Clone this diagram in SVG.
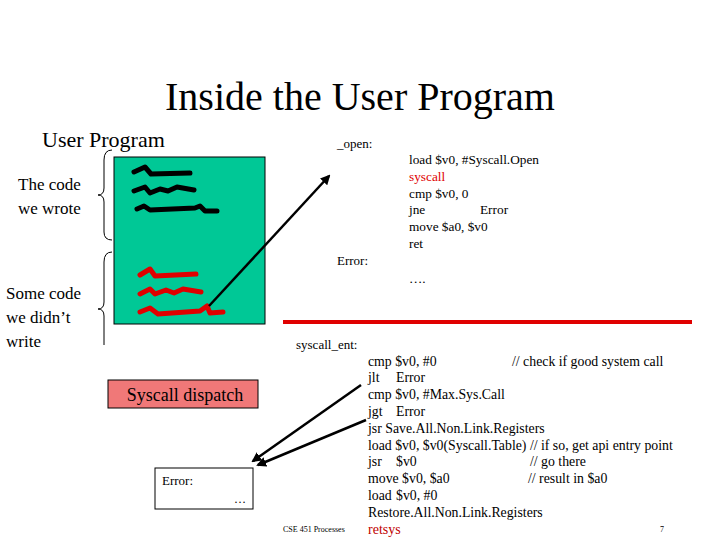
<svg xmlns="http://www.w3.org/2000/svg" width="720" height="540" viewBox="0 0 720 540">
<defs>
<style>
text{font-family:"Liberation Serif",serif;fill:#000}
.s{font-size:13px}
.r{fill:#e00000}
.code{font-size:13.3px}
.ent{font-size:13.8px}
.scr{fill:none;stroke-width:5;stroke-linejoin:round;stroke-linecap:round}
.br{fill:none;stroke:#000;stroke-width:1}
.ar{stroke:#000;stroke-width:2.5;fill:none}
</style>
<marker id="ah" viewBox="0 0 10 10" refX="8" refY="5" markerWidth="4" markerHeight="4" orient="auto"><path d="M0,0L10,5L0,10z" fill="#000"/></marker>
</defs>
<rect width="720" height="540" fill="#fff"/>
<text x="360" y="110" font-size="40" text-anchor="middle">Inside the User Program</text>
<text x="42" y="147" font-size="22">User Program</text>
<g id="brackets">
<path class="br" d="M112,150 Q104,150 104,160 L104,188 Q104,195 98,195 Q104,195 104,202 L104,232 Q104,240 112,240"/>
<path class="br" d="M112,252 Q104,252 104,262 L104,302 Q104,309 98,309 Q104,309 104,316 L104,345"/>
</g>
<text x="18" y="190" font-size="17">The code</text>
<text x="18" y="214" font-size="17">we wrote</text>
<text x="6" y="299" font-size="17">Some code</text>
<text x="6" y="323" font-size="17">we didn’t</text>
<text x="6" y="347" font-size="17">write</text>
<g id="program">
<rect x="114" y="157" width="151" height="167" fill="#00c896" stroke="#000" stroke-width="1"/>
<path class="scr" stroke="#000" d="M134,172 L145,167 L151,174 L190,173"/>
<path class="scr" stroke="#000" d="M134,191 L145,187 L150,193 L160,189 L168,191 L177,187 L194,190"/>
<path class="scr" stroke="#000" d="M137,209 L144,206 L150,210 L195,208 L200,206 L205,211 L217,211"/>
<path class="scr" stroke="#e00000" d="M140,275 L150,269 L155,276 L196,274"/>
<path class="scr" stroke="#e00000" d="M140,294 L150,289 L155,294 L166,290 L174,293 L183,289 L201,292"/>
<path class="scr" stroke="#e00000" d="M140,312 L150,308 L158,314 L200,311 L207,306 L210,313 L223,312"/>
</g>
<text x="337" y="148" class="s">_open:</text>
<text x="337" y="265" class="s">Error:</text>
<g id="opencode" class="code">
<text x="409" y="164">load $v0, #Syscall.Open</text>
<text x="409" y="181" class="r">syscall</text>
<text x="409" y="198">cmp $v0, 0</text>
<text x="409" y="214">jne<tspan x="480">Error</tspan></text>
<text x="409" y="231">move $a0, $v0</text>
<text x="409" y="248">ret</text>
<text x="409" y="283">….</text>
</g>
<rect x="283" y="320" width="409" height="4" fill="#e00000"/>
<text x="296" y="349" class="s">syscall_ent:</text>
<g id="entcode" class="ent">
<text x="368" y="366">cmp $v0, #0<tspan x="512">// check if good system call</tspan></text>
<text x="368" y="382">jlt<tspan x="396">Error</tspan></text>
<text x="368" y="399">cmp $v0, #Max.Sys.Call</text>
<text x="368" y="416">jgt<tspan x="396">Error</tspan></text>
<text x="368" y="433">jsr Save.All.Non.Link.Registers</text>
<text x="368" y="450">load $v0, $v0(Syscall.Table) // if so, get api entry point</text>
<text x="368" y="466">jsr<tspan x="396">$v0</tspan><tspan x="530">// go there</tspan></text>
<text x="368" y="483">move $v0, $a0<tspan x="528">// result in $a0</tspan></text>
<text x="368" y="500">load<tspan x="396">$v0, #0</tspan></text>
<text x="368" y="517">Restore.All.Non.Link.Registers</text>
<text x="368" y="534" font-size="14" style="fill:#c00000">retsys</text>
</g>
<g id="dispatch">
<rect x="108" y="380" width="150" height="28" fill="#f07878" stroke="#000" stroke-width="1"/>
<text x="185" y="401" font-size="18" text-anchor="middle">Syscall dispatch</text>
</g>
<g id="errorbox">
<rect x="155" y="468" width="98" height="41" fill="#fff" stroke="#000" stroke-width="1"/>
<text x="162" y="485" font-size="13">Error:</text>
<text x="234" y="503" font-size="12">…</text>
</g>
<g id="connectors">
<line class="ar" x1="209" y1="306" x2="329" y2="176" marker-end="url(#ah)"/>
<line class="ar" x1="361" y1="385" x2="253" y2="461" marker-end="url(#ah)"/>
<line class="ar" x1="366" y1="420" x2="258" y2="465" marker-end="url(#ah)"/>
</g>
<text x="283" y="532" font-size="8">CSE 451 Processes</text>
<text x="660" y="532" font-size="8">7</text>
</svg>
